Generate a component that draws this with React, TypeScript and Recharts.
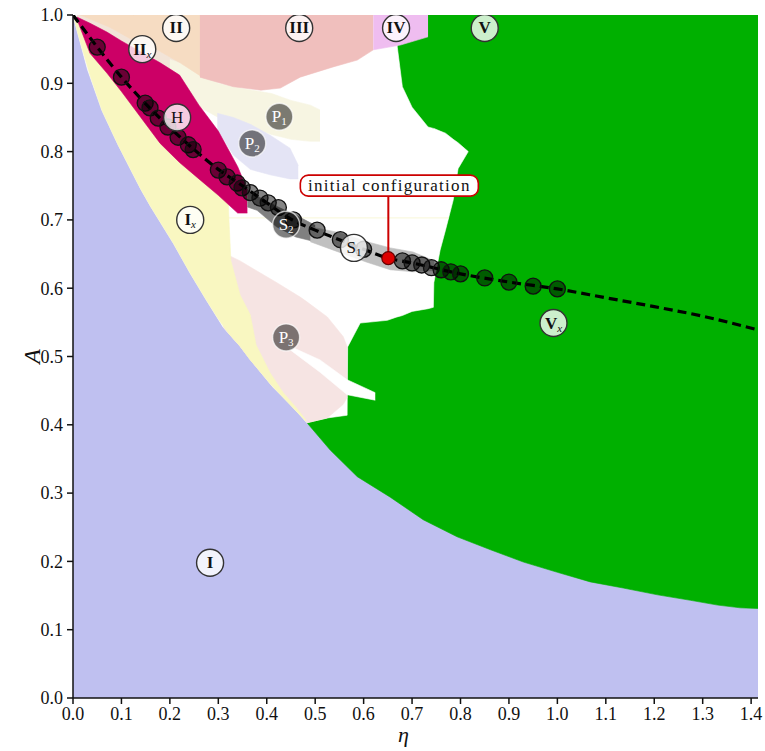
import React from "react";
import { ComposedChart, Area, Line, Scatter, XAxis, YAxis } from "recharts";

const etaTicks = [0, 0.1, 0.2, 0.3, 0.4, 0.5, 0.6, 0.7, 0.8, 0.9, 1.0, 1.1, 1.2, 1.3, 1.4];
const aTicks = [0, 0.1, 0.2, 0.3, 0.4, 0.5, 0.6, 0.7, 0.8, 0.9, 1.0];

// each region: eta, lower A, upper A
const regionI = [
  { eta: 0, lo: 0, hi: 1 },
  { eta: 1.4142, lo: 0, hi: 1 },
];

const regionV = [
  { eta: 0.483, lo: 0.403, hi: 1 },
  { eta: 0.531, lo: 0.363, hi: 1 },
  { eta: 0.587, lo: 0.324, hi: 1 },
  { eta: 0.655, lo: 0.294, hi: 1 },
  { eta: 0.723, lo: 0.261, hi: 1 },
  { eta: 0.793, lo: 0.236, hi: 1 },
  { eta: 0.862, lo: 0.217, hi: 1 },
  { eta: 0.93, lo: 0.199, hi: 1 },
  { eta: 1.0, lo: 0.184, hi: 1 },
  { eta: 1.068, lo: 0.17, hi: 1 },
  { eta: 1.136, lo: 0.161, hi: 1 },
  { eta: 1.207, lo: 0.151, hi: 1 },
  { eta: 1.275, lo: 0.143, hi: 1 },
  { eta: 1.331, lo: 0.136, hi: 1 },
  { eta: 1.378, lo: 0.132, hi: 1 },
  { eta: 1.4142, lo: 0.131, hi: 1 },
];

const regionOpen = [
  { eta: 0, lo: 1, hi: 1 },
  { eta: 0.01, lo: 0.973, hi: 1 },
  { eta: 0.03, lo: 0.92, hi: 1 },
  { eta: 0.06, lo: 0.86, hi: 1 },
  { eta: 0.093, lo: 0.81, hi: 1 },
  { eta: 0.14, lo: 0.745, hi: 1 },
  { eta: 0.16, lo: 0.72, hi: 1 },
  { eta: 0.207, lo: 0.666, hi: 1 },
  { eta: 0.242, lo: 0.622, hi: 1 },
  { eta: 0.275, lo: 0.583, hi: 1 },
  { eta: 0.31, lo: 0.543, hi: 1 },
  { eta: 0.345, lo: 0.515, hi: 1 },
  { eta: 0.378, lo: 0.485, hi: 1 },
  { eta: 0.413, lo: 0.455, hi: 1 },
  { eta: 0.448, lo: 0.43, hi: 1 },
  { eta: 0.483, lo: 0.403, hi: 1 },
  { eta: 0.525, lo: 0.41, hi: 1 },
  { eta: 0.566, lo: 0.414, hi: 1 },
  { eta: 0.567, lo: 0.514, hi: 1 },
  { eta: 0.593, lo: 0.549, hi: 1 },
  { eta: 0.649, lo: 0.553, hi: 1 },
  { eta: 0.669, lo: 0.558, hi: 1 },
  { eta: 0.6695, lo: 0.558, hi: 0.953 },
  { eta: 0.68, lo: 0.56, hi: 0.895 },
  { eta: 0.7, lo: 0.566, hi: 0.865 },
  { eta: 0.733, lo: 0.57, hi: 0.836 },
  { eta: 0.744, lo: 0.572, hi: 0.834 },
  { eta: 0.745, lo: 0.608, hi: 0.834 },
  { eta: 0.758, lo: 0.656, hi: 0.83 },
  { eta: 0.769, lo: 0.685, hi: 0.827 },
  { eta: 0.785, lo: 0.729, hi: 0.818 },
  { eta: 0.795, lo: 0.775, hi: 0.813 },
  { eta: 0.816, lo: 0.8, hi: 0.8 },
];

const regionP3 = [
  { eta: 0.31, lo: 0.543, hi: 0.652 },
  { eta: 0.345, lo: 0.515, hi: 0.64 },
  { eta: 0.366, lo: 0.495, hi: 0.631 },
  { eta: 0.421, lo: 0.45, hi: 0.608 },
  { eta: 0.469, lo: 0.415, hi: 0.587 },
  { eta: 0.483, lo: 0.403, hi: 0.58 },
  { eta: 0.525, lo: 0.41, hi: 0.558 },
  { eta: 0.558, lo: 0.43, hi: 0.529 },
  { eta: 0.566, lo: 0.44, hi: 0.514 },
];

const streak = [
  { eta: 0.448, lo: 0.51, hi: 0.515 },
  { eta: 0.51, lo: 0.477, hi: 0.495 },
  { eta: 0.566, lo: 0.444, hi: 0.466 },
  { eta: 0.624, lo: 0.436, hi: 0.447 },
];

// faint line just below the grey strip
const thinBand = [
  { eta: 0.31, lo: 0.7025, hi: 0.7035 },
  { eta: 0.775, lo: 0.7025, hi: 0.7035 },
];

const regionIx = [
  { eta: 0, lo: 1, hi: 1 },
  { eta: 0.01, lo: 0.973, hi: 0.99 },
  { eta: 0.035, lo: 0.912, hi: 0.956 },
  { eta: 0.06, lo: 0.86, hi: 0.93 },
  { eta: 0.093, lo: 0.81, hi: 0.905 },
  { eta: 0.14, lo: 0.745, hi: 0.862 },
  { eta: 0.16, lo: 0.72, hi: 0.845 },
  { eta: 0.207, lo: 0.666, hi: 0.805 },
  { eta: 0.242, lo: 0.622, hi: 0.78 },
  { eta: 0.275, lo: 0.583, hi: 0.763 },
  { eta: 0.3, lo: 0.555, hi: 0.748 },
  { eta: 0.32, lo: 0.535, hi: 0.738 },
  { eta: 0.322, lo: 0.533, hi: 0.7 },
  { eta: 0.326, lo: 0.53, hi: 0.64 },
  { eta: 0.345, lo: 0.515, hi: 0.59 },
  { eta: 0.366, lo: 0.495, hi: 0.561 },
  { eta: 0.378, lo: 0.485, hi: 0.517 },
  { eta: 0.407, lo: 0.46, hi: 0.476 },
  { eta: 0.434, lo: 0.44, hi: 0.447 },
  { eta: 0.461, lo: 0.42, hi: 0.425 },
  { eta: 0.481, lo: 0.405, hi: 0.407 },
];

const regionIIx = [
  { eta: 0.008, lo: 0.99, hi: 1 },
  { eta: 0.062, lo: 0.968, hi: 1 },
  { eta: 0.124, lo: 0.943, hi: 1 },
  { eta: 0.194, lo: 0.914, hi: 1 },
  { eta: 0.22, lo: 0.9, hi: 1 },
];

const regionP1 = [
  { eta: 0.2, lo: 0.905, hi: 0.935 },
  { eta: 0.262, lo: 0.865, hi: 0.92 },
  { eta: 0.3, lo: 0.85, hi: 0.9 },
  { eta: 0.33, lo: 0.845, hi: 0.895 },
  { eta: 0.37, lo: 0.835, hi: 0.89 },
  { eta: 0.41, lo: 0.825, hi: 0.885 },
  { eta: 0.45, lo: 0.818, hi: 0.875 },
  { eta: 0.49, lo: 0.815, hi: 0.868 },
  { eta: 0.51, lo: 0.815, hi: 0.861 },
];

const regionP2 = [
  { eta: 0.298, lo: 0.832, hi: 0.856 },
  { eta: 0.331, lo: 0.795, hi: 0.85 },
  { eta: 0.366, lo: 0.774, hi: 0.84 },
  { eta: 0.407, lo: 0.766, hi: 0.824 },
  { eta: 0.448, lo: 0.76, hi: 0.805 },
  { eta: 0.465, lo: 0.76, hi: 0.78 },
];

const regionH = [
  { eta: 0.008, lo: 0.994, hi: 0.997 },
  { eta: 0.035, lo: 0.944, hi: 0.988 },
  { eta: 0.07, lo: 0.915, hi: 0.975 },
  { eta: 0.1, lo: 0.888, hi: 0.962 },
  { eta: 0.14, lo: 0.85, hi: 0.946 },
  { eta: 0.18, lo: 0.812, hi: 0.93 },
  { eta: 0.22, lo: 0.784, hi: 0.912 },
  { eta: 0.26, lo: 0.76, hi: 0.868 },
  { eta: 0.3, lo: 0.736, hi: 0.83 },
  { eta: 0.34, lo: 0.71, hi: 0.778 },
  { eta: 0.36, lo: 0.71, hi: 0.744 },
];

const regionII = [
  { eta: 0.015, lo: 1, hi: 1 },
  { eta: 0.076, lo: 0.982, hi: 1 },
  { eta: 0.124, lo: 0.963, hi: 1 },
  { eta: 0.174, lo: 0.949, hi: 1 },
  { eta: 0.221, lo: 0.93, hi: 1 },
  { eta: 0.267, lo: 0.909, hi: 1 },
];

const regionIII = [
  { eta: 0.262, lo: 0.909, hi: 1 },
  { eta: 0.331, lo: 0.895, hi: 1 },
  { eta: 0.388, lo: 0.89, hi: 1 },
  { eta: 0.428, lo: 0.893, hi: 1 },
  { eta: 0.469, lo: 0.909, hi: 1 },
  { eta: 0.537, lo: 0.924, hi: 1 },
  { eta: 0.587, lo: 0.934, hi: 1 },
  { eta: 0.62, lo: 0.949, hi: 1 },
];

const regionIV = [
  { eta: 0.62, lo: 0.949, hi: 1 },
  { eta: 0.676, lo: 0.956, hi: 1 },
  { eta: 0.733, lo: 0.968, hi: 1 },
];

const regionS2 = [
  { eta: 0.36, lo: 0.719, hi: 0.744 },
  { eta: 0.38, lo: 0.714, hi: 0.735 },
  { eta: 0.42, lo: 0.69, hi: 0.72 },
  { eta: 0.46, lo: 0.675, hi: 0.707 },
  { eta: 0.5, lo: 0.668, hi: 0.692 },
];

const regionS1 = [
  { eta: 0.49, lo: 0.668, hi: 0.69 },
  { eta: 0.552, lo: 0.652, hi: 0.681 },
  { eta: 0.607, lo: 0.638, hi: 0.668 },
  { eta: 0.655, lo: 0.627, hi: 0.659 },
  { eta: 0.702, lo: 0.624, hi: 0.653 },
  { eta: 0.746, lo: 0.626, hi: 0.64 },
];

// path of configurations
const pathCurve = [
  { eta: 0, A: 1 },
  { eta: 0.05, A: 0.953 },
  { eta: 0.1, A: 0.909 },
  { eta: 0.15, A: 0.87 },
  { eta: 0.2, A: 0.835 },
  { eta: 0.25, A: 0.803 },
  { eta: 0.3, A: 0.774 },
  { eta: 0.35, A: 0.75 },
  { eta: 0.4, A: 0.725 },
  { eta: 0.45, A: 0.701 },
  { eta: 0.5, A: 0.685 },
  { eta: 0.55, A: 0.671 },
  { eta: 0.6, A: 0.657 },
  { eta: 0.65, A: 0.644 },
  { eta: 0.7, A: 0.637 },
  { eta: 0.8, A: 0.621 },
  { eta: 0.9, A: 0.609 },
  { eta: 1.0, A: 0.599 },
  { eta: 1.1, A: 0.586 },
  { eta: 1.2, A: 0.573 },
  { eta: 1.3, A: 0.559 },
  { eta: 1.4142, A: 0.539 },
];

const pathDots = [
  { eta: 0.05, A: 0.953 },
  { eta: 0.1, A: 0.909 },
  { eta: 0.149, A: 0.871 },
  { eta: 0.159, A: 0.864 },
  { eta: 0.176, A: 0.849 },
  { eta: 0.196, A: 0.836 },
  { eta: 0.217, A: 0.821 },
  { eta: 0.238, A: 0.81 },
  { eta: 0.248, A: 0.803 },
  { eta: 0.3, A: 0.773 },
  { eta: 0.318, A: 0.763 },
  { eta: 0.339, A: 0.754 },
  { eta: 0.349, A: 0.747 },
  { eta: 0.366, A: 0.74 },
  { eta: 0.386, A: 0.732 },
  { eta: 0.403, A: 0.725 },
  { eta: 0.424, A: 0.718 },
  { eta: 0.455, A: 0.7 },
  { eta: 0.504, A: 0.685 },
  { eta: 0.552, A: 0.671 },
  { eta: 0.6, A: 0.657 },
  { eta: 0.68, A: 0.64 },
  { eta: 0.7, A: 0.637 },
  { eta: 0.72, A: 0.634 },
  { eta: 0.74, A: 0.63 },
  { eta: 0.76, A: 0.627 },
  { eta: 0.78, A: 0.624 },
  { eta: 0.8, A: 0.621 },
  { eta: 0.85, A: 0.615 },
  { eta: 0.9, A: 0.609 },
  { eta: 0.95, A: 0.603 },
  { eta: 1.0, A: 0.599 },
];

const initialConfig = [{ eta: 0.651, A: 0.644 }];

const regionLabels = [
  { eta: 0.283, A: 0.198, text: "I", sub: "", bold: true, dark: false },
  { eta: 0.242, A: 0.7, text: "I", sub: "x", bold: true, dark: false },
  { eta: 0.213, A: 0.981, text: "II", sub: "", bold: true, dark: false },
  { eta: 0.143, A: 0.95, text: "II", sub: "x", bold: true, dark: false },
  { eta: 0.215, A: 0.85, text: "H", sub: "", bold: false, dark: false },
  { eta: 0.467, A: 0.981, text: "III", sub: "", bold: true, dark: false },
  { eta: 0.667, A: 0.981, text: "IV", sub: "", bold: true, dark: false },
  { eta: 0.85, A: 0.981, text: "V", sub: "", bold: true, dark: false },
  { eta: 0.992, A: 0.549, text: "V", sub: "x", bold: true, dark: false },
  { eta: 0.426, A: 0.851, text: "P", sub: "1", bold: false, dark: true },
  { eta: 0.37, A: 0.812, text: "P", sub: "2", bold: false, dark: true },
  { eta: 0.44, A: 0.528, text: "P", sub: "3", bold: false, dark: true },
  { eta: 0.44, A: 0.693, text: "S", sub: "2", bold: false, dark: true },
  { eta: 0.58, A: 0.659, text: "S", sub: "1", bold: false, dark: false },
];

const FONT = "'Liberation Serif', 'DejaVu Serif', serif";

const rangeKey = (d: any) => [d.lo, d.hi];

function region(data: any[], color: string, key: string) {
  return (
    <Area
      key={key}
      data={data}
      dataKey={rangeKey}
      type="linear"
      fill={color}
      fillOpacity={1}
      stroke={color}
      strokeWidth={0.6}
      dot={false}
      activeDot={false}
      isAnimationActive={false}
    />
  );
}

const PathDot = (props: any) => {
  const { cx, cy } = props;
  return (
    <circle cx={cx} cy={cy} r={8} fill="rgba(0,0,0,0.48)" stroke="#111" strokeWidth={1.3} />
  );
};

const RegionLabel = (props: any) => {
  const { cx, cy, payload } = props;
  const dark = payload.dark;
  return (
    <g>
      <circle
        cx={cx}
        cy={cy}
        r={13.5}
        fill={dark ? "rgba(0,0,0,0.5)" : "rgba(255,255,255,0.8)"}
        stroke={dark ? "rgba(255,255,255,0.7)" : "#333"}
        strokeWidth={1.4}
      />
      <text
        x={cx}
        y={cy + 5.5}
        textAnchor="middle"
        fontFamily={FONT}
        fontSize={17}
        fontWeight={payload.bold ? "bold" : "normal"}
        fill={dark ? "#fff" : "#111"}
      >
        {payload.text}
        {payload.sub ? (
          <tspan
            fontSize={11}
            dy={3}
            fontWeight="normal"
            fontStyle={payload.sub === "x" ? "italic" : "normal"}
          >
            {payload.sub}
          </tspan>
        ) : null}
      </text>
    </g>
  );
};

const Callout = (props: any) => {
  const { cx, cy } = props;
  return (
    <g>
      <line x1={cx} y1={cy} x2={cx} y2={cy - 62} stroke="#cc0000" strokeWidth={2} />
      <rect
        x={cx - 88}
        y={cy - 83}
        width={178}
        height={21}
        rx={8}
        fill="#fff"
        stroke="#cc0000"
        strokeWidth={1.6}
      />
      <text
        x={cx + 1}
        y={cy - 67}
        textAnchor="middle"
        fontFamily={FONT}
        fontSize={17}
        letterSpacing={1.3}
        fill="#111"
      >
        initial configuration
      </text>
      <circle cx={cx} cy={cy} r={6.5} fill="#dd0000" stroke="#600" strokeWidth={1.2} />
    </g>
  );
};

const tickStyle = { fontFamily: FONT, fontSize: 18, fill: "#111" };
const fmt = (v: number) => v.toFixed(1);
const blank = () => "";

export default function App() {
  return (
    <div style={{ position: "absolute", left: 0, top: 0 }}>
      <ComposedChart
        width={765}
        height={751}
        margin={{ top: 15, right: 7, bottom: 0, left: 0 }}
      >
        <XAxis
          dataKey="eta"
          type="number"
          domain={[0, 1.4142]}
          allowDataOverflow
          ticks={etaTicks}
          tickFormatter={fmt}
          tick={tickStyle}
          tickSize={6}
          tickMargin={3}
          height={53}
          stroke="#111"
          strokeWidth={1.5}
          label={{
            content: (p: any) => {
              const vb = p.viewBox;
              return (
                <text
                  x={vb.x + vb.width / 2 - 12}
                  y={vb.y + 44}
                  textAnchor="middle"
                  fontFamily={FONT}
                  fontStyle="italic"
                  fontSize={22}
                  fill="#111"
                >
                  η
                </text>
              );
            },
          }}
        />
        <XAxis
          xAxisId="top"
          orientation="top"
          type="number"
          dataKey="eta"
          domain={[0, 1.4142]}
          allowDataOverflow
          ticks={etaTicks}
          tickFormatter={blank}
          tickSize={6}
          height={0}
          stroke="#111"
          strokeWidth={1.5}
        />
        <YAxis
          type="number"
          domain={[0, 1]}
          allowDataOverflow
          ticks={aTicks}
          tickFormatter={fmt}
          tick={tickStyle}
          tickSize={6}
          tickMargin={4}
          width={73}
          stroke="#111"
          strokeWidth={1.5}
          label={{
            content: (p: any) => {
              const vb = p.viewBox;
              const x = vb.x + 32;
              const y = vb.y + vb.height / 2;
              return (
                <text
                  x={x}
                  y={y}
                  transform={`rotate(-90 ${x} ${y})`}
                  textAnchor="middle"
                  dominantBaseline="central"
                  fontFamily={FONT}
                  fontStyle="italic"
                  fontSize={24}
                  fill="#111"
                >
                  A
                </text>
              );
            },
          }}
        />
        <YAxis
          yAxisId="right"
          orientation="right"
          type="number"
          domain={[0, 1]}
          allowDataOverflow
          ticks={aTicks}
          tickFormatter={blank}
          tickSize={6}
          width={0}
          stroke="#111"
          strokeWidth={1.5}
        />

        {region(regionI, "#bfc0f0", "I")}
        {region(regionV, "#00b000", "V")}
        {region(regionOpen, "#ffffff", "open")}
        {region(thinBand, "#fcfae2", "band")}
        {region(regionP3, "#f6e4e3", "P3")}
        {region(streak, "#ffffff", "streak")}
        {region(regionIx, "#f9f7c1", "Ix")}
        {region(regionIIx, "#f2e4d8", "IIx")}
        {region(regionP1, "#f7f5e2", "P1")}
        {region(regionP2, "#e4e4f5", "P2")}
        {region(regionH, "#cc0066", "H")}
        {region(regionII, "#f6dcc2", "II")}
        {region(regionIII, "#f0bfbd", "III")}
        {region(regionIV, "#efbdf0", "IV")}
        {region(regionS2, "#808080", "S2")}
        {region(regionS1, "#c0c0c0", "S1")}

        <Line
          data={pathCurve}
          dataKey="A"
          type="monotone"
          stroke="#000"
          strokeWidth={3.2}
          strokeDasharray="9 5"
          dot={false}
          activeDot={false}
          isAnimationActive={false}
        />
        <Scatter data={pathDots} dataKey="A" shape={PathDot} isAnimationActive={false} />
        <Scatter data={regionLabels} dataKey="A" shape={RegionLabel} isAnimationActive={false} />
        <Scatter data={initialConfig} dataKey="A" shape={Callout} isAnimationActive={false} />
      </ComposedChart>
    </div>
  );
}
